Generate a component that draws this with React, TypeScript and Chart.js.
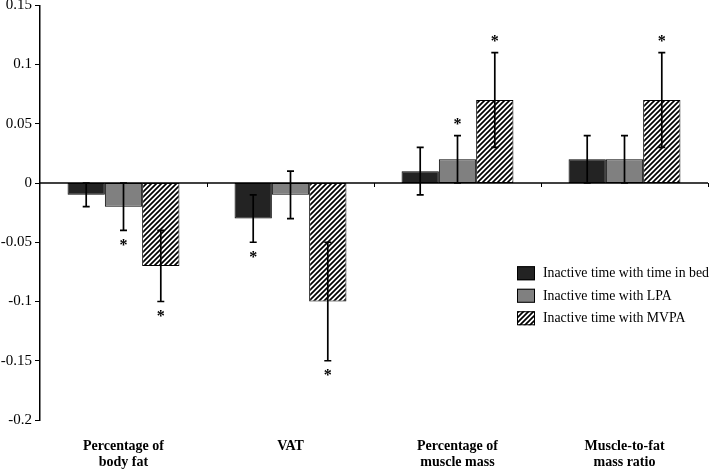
import React, { useEffect, useRef } from "react";
import { Chart, registerables } from "chart.js";

Chart.register(...registerables);

// ---------- data ----------
const categories: string[][] = [
  ["Percentage of", "body fat"],
  ["VAT"],
  ["Percentage of", "muscle mass"],
  ["Muscle-to-fat", "mass ratio"],
];
const seriesLabels = [
  "Inactive time with time in bed",
  "Inactive time with LPA",
  "Inactive time with MVPA",
];

const bedValues = [-0.01, -0.03, 0.01, 0.02];
const bedLow = [-0.02, -0.05, -0.01, 0.0];
const bedHigh = [0.0, -0.01, 0.03, 0.04];
const bedSig = [false, true, false, false];

const lpaValues = [-0.02, -0.01, 0.02, 0.02];
const lpaLow = [-0.04, -0.03, 0.0, 0.0];
const lpaHigh = [0.0, 0.01, 0.04, 0.04];
const lpaSig = [true, false, true, false];

const mvpaValues = [-0.07, -0.1, 0.07, 0.07];
const mvpaLow = [-0.1, -0.15, 0.03, 0.03];
const mvpaHigh = [-0.04, -0.05, 0.11, 0.11];
const mvpaSig = [true, true, true, true];

const yMin = -0.2;
const yMax = 0.15;
const yStep = 0.05;

const values = [bedValues, lpaValues, mvpaValues];
const lows = [bedLow, lpaLow, mvpaLow];
const highs = [bedHigh, lpaHigh, mvpaHigh];
const sigs = [bedSig, lpaSig, mvpaSig];

const SERIF = "'Liberation Serif', 'Times New Roman', serif";

function makeHatch(): CanvasPattern | string {
  const s = 5;
  const c = document.createElement("canvas");
  c.width = s;
  c.height = s;
  const g = c.getContext("2d");
  if (!g) return "#fff";
  g.fillStyle = "#fff";
  g.fillRect(0, 0, s, s);
  g.strokeStyle = "#000";
  g.lineWidth = 1.7;
  g.beginPath();
  g.moveTo(-1, s + 1);
  g.lineTo(s + 1, -1);
  g.moveTo(-1, 1);
  g.lineTo(1, -1);
  g.moveTo(s - 1, s + 1);
  g.lineTo(s + 1, s - 1);
  g.stroke();
  const p = g.createPattern(c, "repeat");
  return p || "#fff";
}

export default function App() {
  const ref = useRef<HTMLCanvasElement | null>(null);

  useEffect(() => {
    document.body.style.margin = "0";
    let chart: Chart | null = null;
    let cancelled = false;

    const build = () => {
      const canvas = ref.current;
      if (!canvas || cancelled) return;
      const hatch = makeHatch();
      const fills: any[] = ["#232323", "#808080", hatch];

      const overlay = {
        id: "overlay",
        afterDatasetsDraw(c: any) {
          const ctx = c.ctx;
          const ys = c.scales.y;
          const xs = c.scales.x;
          const ca = c.chartArea;
          ctx.save();
          const y0 = ys.getPixelForValue(0);
          ctx.strokeStyle = "#000";
          ctx.lineWidth = 1.5;
          ctx.beginPath();
          ctx.moveTo(ca.left, y0);
          ctx.lineTo(ca.right, y0);
          ctx.stroke();
          ctx.lineWidth = 1;
          for (let i = 0; i < categories.length; i++) {
            const bx = Math.round(xs.getPixelForValue(i + 0.5)) + 0.5;
            ctx.beginPath();
            ctx.moveTo(bx, y0);
            ctx.lineTo(bx, y0 + 4);
            ctx.stroke();
          }
          ctx.lineWidth = 1.7;
          for (let d = 0; d < 3; d++) {
            const meta = c.getDatasetMeta(d);
            meta.data.forEach((el: any, i: number) => {
              const x = el.x;
              const yl = ys.getPixelForValue(lows[d][i]);
              const yh = ys.getPixelForValue(highs[d][i]);
              ctx.beginPath();
              ctx.moveTo(x, yl);
              ctx.lineTo(x, yh);
              ctx.moveTo(x - 3.5, yl);
              ctx.lineTo(x + 3.5, yl);
              ctx.moveTo(x - 3.5, yh);
              ctx.lineTo(x + 3.5, yh);
              ctx.stroke();
              if (sigs[d][i]) {
                ctx.fillStyle = "#000";
                ctx.font = `bold 16px ${SERIF}`;
                ctx.textAlign = "center";
                ctx.textBaseline = "alphabetic";
                const positive = values[d][i] > 0;
                const ty = positive ? yh - 6.5 : yl + 19.5;
                ctx.fillText("*", x, ty);
              }
            });
          }
          ctx.restore();
        },
        afterDraw(c: any) {
          const ctx = c.ctx;
          const ca = c.chartArea;
          ctx.save();
          const bx = ca.right - 191;
          let by = ca.top + 261;
          for (let d = 0; d < 3; d++) {
            ctx.fillStyle = fills[d];
            ctx.fillRect(bx, by, 18, 14);
            ctx.strokeStyle = "#000";
            ctx.lineWidth = 1;
            ctx.strokeRect(bx + 0.5, by + 0.5, 17, 13);
            ctx.fillStyle = "#000";
            ctx.font = `13.8px ${SERIF}`;
            ctx.textAlign = "left";
            ctx.textBaseline = "middle";
            ctx.fillText(seriesLabels[d], bx + 26, by + 7.5);
            by += 22.5;
          }
          ctx.restore();
        },
      };

      chart = new Chart(canvas, {
        type: "bar",
        data: {
          labels: categories,
          datasets: [
            { label: seriesLabels[0], data: bedValues, backgroundColor: fills[0] },
            { label: seriesLabels[1], data: lpaValues, backgroundColor: fills[1] },
            { label: seriesLabels[2], data: mvpaValues, backgroundColor: fills[2] },
          ].map((ds) => ({
            ...ds,
            borderColor: "#000",
            borderWidth: 1,
            borderSkipped: false,
            categoryPercentage: 0.67,
            barPercentage: 1.0,
          })) as any,
        },
        options: {
          responsive: false,
          animation: false,
          devicePixelRatio: 1,
          layout: { padding: { top: 0, right: 1, left: 0, bottom: 0 } },
          plugins: {
            legend: { display: false },
            tooltip: { enabled: false },
          },
          scales: {
            x: {
              grid: { display: false, drawTicks: false },
              border: { display: false },
              ticks: {
                color: "#000",
                font: { family: SERIF, size: 14, weight: "bold", lineHeight: 1.1 },
                padding: 19,
                maxRotation: 0,
                autoSkip: false,
              },
              afterFit: (scale: any) => {
                scale.height = 49;
              },
            },
            y: {
              min: yMin,
              max: yMax,
              grid: { drawOnChartArea: false, drawTicks: true, tickLength: 5, color: "#000", lineWidth: 1 },
              border: { display: true, color: "#000", width: 1.5 },
              ticks: {
                stepSize: yStep,
                color: "#000",
                font: { family: SERIF, size: 15, lineHeight: 0.3 },
                padding: 3,
                callback: (v: any) => String(parseFloat(Number(v).toFixed(2))),
              },
              afterFit: (scale: any) => {
                scale.width = 40;
              },
            },
          },
        },
        plugins: [overlay],
      });
    };

    const fontsApi: any = (document as any).fonts;
    if (fontsApi && fontsApi.load) {
      Promise.all([
        fontsApi.load(`15px "Liberation Serif"`),
        fontsApi.load(`bold 15px "Liberation Serif"`),
      ])
        .catch(() => null)
        .then(() => build());
    } else {
      build();
    }

    return () => {
      cancelled = true;
      if (chart) chart.destroy();
    };
  }, []);

  return (
    <div style={{ width: 709, height: 469, background: "#fff" }}>
      <canvas ref={ref} width={709} height={469} style={{ display: "block" }} />
    </div>
  );
}
